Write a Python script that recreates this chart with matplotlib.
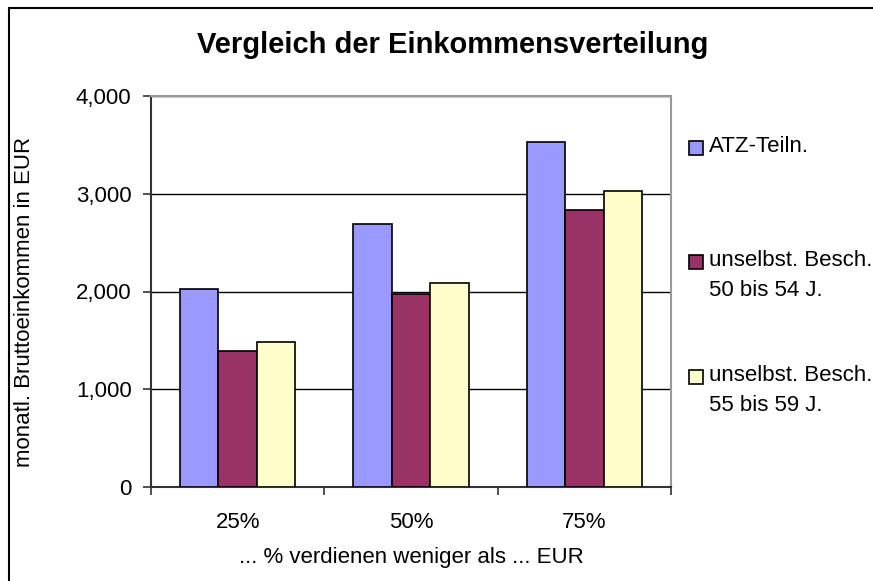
import numpy as np
import matplotlib
matplotlib.use("Agg")
import matplotlib.pyplot as plt
from matplotlib.patches import Rectangle
from matplotlib.ticker import FuncFormatter

plt.rcParams['font.family'] = ['Liberation Sans', 'DejaVu Sans']

# data
categories = ["25%", "50%", "75%"]
series_names = ["ATZ-Teiln.", "unselbst. Besch.\n50 bis 54 J.", "unselbst. Besch.\n55 bis 59 J."]
atz = [2030, 2690, 3525]
besch_50_54 = [1390, 1975, 2835]
besch_55_59 = [1480, 2090, 3025]
y_ticks = [0, 1000, 2000, 3000, 4000]

colors = ["#9999FF", "#993366", "#FFFFCC"]

fig = plt.figure(figsize=(8.73, 5.81), dpi=100)
ax = fig.add_axes([151/873, 1-487/581, (671-151)/873, (487-96)/581])

# bars, gap width 150% like excel
x = np.arange(len(categories))
bw = 1/4.5
for k, vals in enumerate([atz, besch_50_54, besch_55_59]):
    ax.bar(x + (k-1)*bw, vals, width=bw, color=colors[k], edgecolor="black",
           linewidth=1.2, zorder=3)

ax.set_xlim(-0.5, 2.5)
ax.set_ylim(0, 4000)
ax.set_yticks(y_ticks)
ax.yaxis.set_major_formatter(FuncFormatter(lambda v, p: "{:,.0f}".format(v)))
ax.set_xticks(x)
ax.set_xticklabels(categories)
ax.set_xticks([-0.5, 0.5, 1.5, 2.5], minor=True)
ax.tick_params(axis="x", which="major", length=0, pad=18, labelsize=16)
ax.tick_params(axis="x", which="minor", length=6, width=1.2, color="#333333")
ax.tick_params(axis="y", length=6, width=1.2, color="#333333", pad=8, labelsize=16)

ax.yaxis.grid(True, color="black", linewidth=1)
ax.set_axisbelow(True)

for s in ["left", "bottom"]:
    ax.spines[s].set_color("#333333")
    ax.spines[s].set_linewidth(1.5)
for s in ["top", "right"]:
    ax.spines[s].set_color("#999999")
    ax.spines[s].set_linewidth(1.5)

fig.text(411/873, 1-557/581, "... % verdienen weniger als ... EUR", fontsize=16,
         ha="center", va="center")
fig.text(25/873, 1-302/581, "monatl. Bruttoeinkommen in EUR", fontsize=16,
         rotation=90, ha="center", va="center")

fig.text(453/873, 1-45/581, "Vergleich der Einkommensverteilung", fontsize=21,
         fontweight="bold", ha="center", va="center")

# legend drawn like the excel one (box next to first line)
leg_y = [148, 262, 377]
for k in range(3):
    fig.patches.append(Rectangle((689/873, 1-(leg_y[k]+7)/581), 14/873, 14/581,
                                 transform=fig.transFigure, facecolor=colors[k],
                                 edgecolor="black", linewidth=1.2))
    fig.text(709/873, 1-(leg_y[k]-12)/581, series_names[k], fontsize=16,
             ha="left", va="top", linespacing=1.55)

# chart frame
fig.patches.append(Rectangle((9/873, -0.1), 1.2, 1.1-8/581, transform=fig.transFigure,
                             fill=False, edgecolor="black", linewidth=1.5))

fig.savefig("out.png", dpi=100)
